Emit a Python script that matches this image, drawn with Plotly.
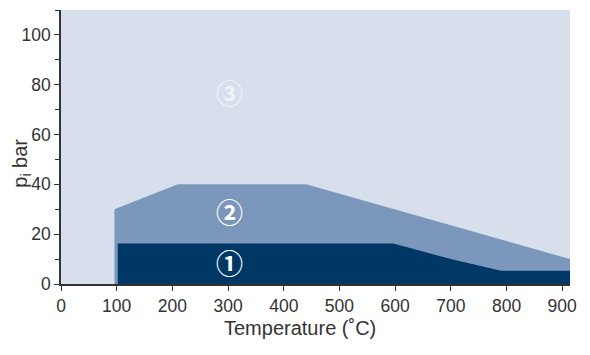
import plotly.graph_objects as go

# Data (temperature in °C, pressure in bar)
zone2_temp = [96, 96, 210, 440, 914, 914]
zone2_p = [0, 30, 40, 40, 10, 0]
zone1_temp = [102, 102, 597, 700, 790, 914, 914]
zone1_p = [0, 16.3, 16.3, 10, 5.3, 5.3, 0]

zone_labels = ["①", "②", "③"]
label_temp = [303, 303, 303]
label_p = [8.5, 29, 77]

x_ticks = [0, 100, 200, 300, 400, 500, 600, 700, 800, 900]
y_ticks = [0, 20, 40, 60, 80, 100]

LIGHT = "#d6dfeb"
MID = "#7b97bb"
DARK = "#003865"
TXT = "#333333"

fig = go.Figure()
fig.add_trace(go.Scatter(x=zone2_temp, y=zone2_p, fill="toself", fillcolor=MID,
                         mode="lines", line=dict(width=0, color=MID), hoverinfo="skip"))
fig.add_trace(go.Scatter(x=zone1_temp, y=zone1_p, fill="toself", fillcolor=DARK,
                         mode="lines", line=dict(width=0, color=DARK), hoverinfo="skip"))

for lab, tx, py in zip(zone_labels, label_temp, label_p):
    fig.add_annotation(x=tx, y=py, text="<b>" + lab + "</b>", showarrow=False,
                       xanchor="center", yanchor="middle",
                       font=dict(family="Noto Sans CJK JP", size=27,
                                 color="rgba(255,255,255,0.65)" if lab == "③" else "white"))

fig.add_annotation(xref="paper", yref="paper", x=0.4695, y=-0.16,
                   xanchor="center", yanchor="middle",
                   text="Temperature (˚C)", showarrow=False,
                   font=dict(family="Liberation Sans", size=20, color=TXT))
fig.add_annotation(xref="paper", yref="paper", x=-0.077, y=0.442,
                   xanchor="center", yanchor="middle",
                   text="p<sub>i</sub> bar", showarrow=False, textangle=-90,
                   font=dict(family="Liberation Sans", size=20, color=TXT))

fig.update_layout(
    width=582, height=347,
    margin=dict(l=53, r=20, t=2, b=71),
    paper_bgcolor="white", plot_bgcolor=LIGHT,
    showlegend=False,
    font=dict(family="Liberation Sans", size=17, color=TXT),
)
fig.update_xaxes(range=[0, 914], tickvals=x_ticks, showgrid=False, zeroline=False,
                 showline=True, linecolor=TXT, linewidth=1.5, ticks="outside",
                 ticklen=5, tickcolor=TXT, tickfont=dict(size=17.5, color=TXT))
fig.update_yaxes(range=[0, 110], tickvals=y_ticks, showgrid=False, zeroline=False,
                 showline=True, linecolor=TXT, linewidth=1.5, ticks="outside",
                 ticklen=5, tickcolor=TXT, tickfont=dict(size=17.5, color=TXT),
                 minor=dict(dtick=10, tick0=0, ticks="outside", ticklen=4, tickcolor=TXT,
                            showgrid=False))

fig.write_html("out.html")
